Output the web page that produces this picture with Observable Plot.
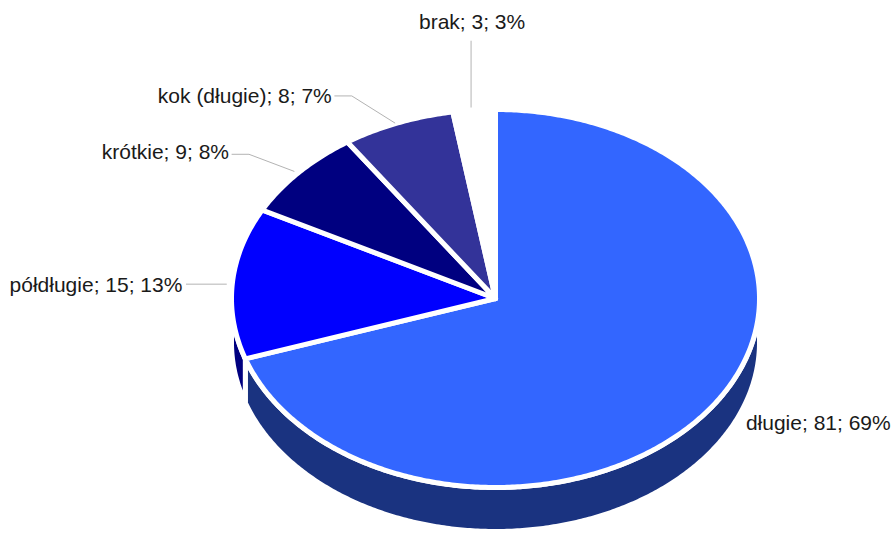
<!DOCTYPE html>
<html>
<head>
<meta charset="utf-8">
<script src="https://cdn.jsdelivr.net/npm/d3@7"></script>
<script src="https://cdn.jsdelivr.net/npm/@observablehq/plot@0.6"></script>
<style>
  html, body { margin: 0; padding: 0; background: #ffffff; }
  #chart svg { display: block; }
</style>
</head>
<body>
<div id="chart"></div>
<script>
// ---- data ----
const categories = ["długie", "półdługie", "krótkie", "kok (długie)", "brak"];
const counts = [81, 15, 9, 8, 3];
const percents = [69, 13, 8, 7, 3];
const topColors = ["#3366ff", "#0000ff", "#000080", "#333399", "#ffffff"];
const sideColors = ["#1a3380", "#000080", "#000050", "#202060", "#ffffff"];

// ---- layout (pixels) ----
const W = 893, H = 535;
const cx = 495, cy = 298, rx = 264, ry = 189, depthPx = 44;
// label offsets relative to the slice's rim point at mid-angle
const labelDx = [36, -50, -70, -66, -2];
const labelDy = [15, 2, -20, -27, -88];
const labelAnchor = ["start", "end", "end", "end", "middle"];
const leaderPts = [
  [],
  [[-6, 1], [-46, 1]],
  [[-5, -1], [-50, -18], [-67, -18]],
  [[-3, 0], [-46, -27], [-63, -27]],
  [[-3, -3], [-3, -69]]
];

const depth = depthPx / ry;
const arcs = d3.pie().sort(null).value(d => d)(counts);

function arcPoints(a0, a1, dy) {
  const n = Math.max(2, Math.ceil((a1 - a0) / 0.01));
  const pts = [];
  for (let k = 0; k <= n; k++) {
    const t = a0 + (a1 - a0) * k / n;
    pts.push({x: Math.sin(t), y: -Math.cos(t) + dy});
  }
  return pts;
}

const tops = [], sides = [], leaders = [], labels = [];
arcs.forEach((a, i) => {
  const id = categories[i];
  const poly = [{x: 0, y: 0}, ...arcPoints(a.startAngle, a.endAngle, 0), {x: 0, y: 0}];
  poly.forEach(p => tops.push({...p, id, color: topColors[i]}));
  const lo = Math.max(a.startAngle, Math.PI / 2), hi = Math.min(a.endAngle, 3 * Math.PI / 2);
  if (hi > lo) {
    const upper = arcPoints(lo, hi, 0);
    const lower = arcPoints(lo, hi, depth).reverse();
    [...upper, ...lower, upper[0]].forEach(p => sides.push({...p, id, color: sideColors[i]}));
  }
  const mid = (a.startAngle + a.endAngle) / 2;
  const ax = Math.sin(mid), ay = -Math.cos(mid);
  leaderPts[i].forEach(([dx, dy]) => leaders.push({x: ax + dx / rx, y: ay + dy / ry, id}));
  labels.push({
    x: ax + labelDx[i] / rx, y: ay + labelDy[i] / ry,
    text: `${categories[i]}; ${counts[i]}; ${percents[i]}%`,
    anchor: labelAnchor[i]
  });
});

const textMark = (anchor) => Plot.text(labels.filter(d => d.anchor === anchor), {
  x: "x", y: "y", text: "text", textAnchor: anchor,
  fill: "#1a1a1a", fontSize: 21, fontFamily: "Liberation Sans, Arial, sans-serif"
});

const chart = Plot.plot({
  width: W, height: H,
  marginTop: 0, marginBottom: 0, marginLeft: 0, marginRight: 0,
  style: {background: "#ffffff", fontFamily: "Liberation Sans, Arial, sans-serif"},
  x: {domain: [-cx / rx, (W - cx) / rx], range: [0, W], axis: null},
  y: {domain: [-cy / ry, (H - cy) / ry], range: [0, H], axis: null},
  marks: [
    Plot.line(sides, {x: "x", y: "y", z: "id", fill: "color", stroke: "#ffffff", strokeWidth: 5, strokeLinejoin: "miter", strokeMiterlimit: 4, curve: "linear"}),
    Plot.line(tops, {x: "x", y: "y", z: "id", fill: "color", stroke: "#ffffff", strokeWidth: 5, strokeLinejoin: "miter", strokeMiterlimit: 4, curve: "linear"}),
    Plot.line(leaders, {x: "x", y: "y", z: "id", stroke: "#b3b3b3", strokeWidth: 1, curve: "linear"}),
    textMark("start"), textMark("end"), textMark("middle")
  ]
});
document.getElementById("chart").appendChild(chart);
</script>
</body>
</html>
